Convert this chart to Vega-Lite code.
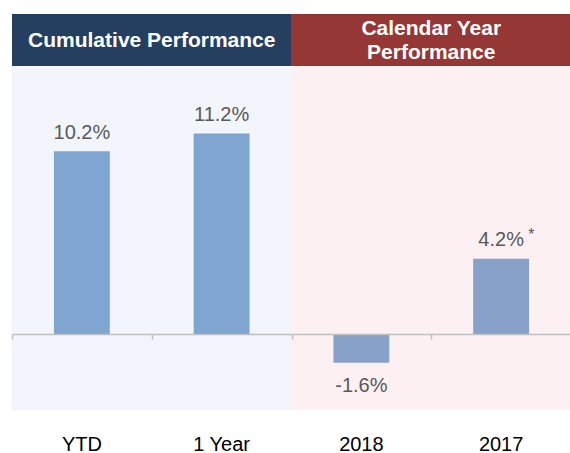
{
  "$schema": "https://vega.github.io/schema/vega-lite/v6.json",
  "padding": {"left": 11, "top": 14, "right": 0, "bottom": 0},
  "background": "white",
  "spacing": 0,
  "config": {
    "view": {"stroke": null},
    "font": "Liberation Sans",
    "locale": {"number": {"decimal": ".", "thousands": ",", "grouping": [3], "currency": ["$", ""], "minus": "-"}}
  },
  "datasets": {
    "perf": [
      {"period": "YTD", "section": "Cumulative Performance", "value": 0.102, "note": ""},
      {"period": "1 Year", "section": "Cumulative Performance", "value": 0.112, "note": ""},
      {"period": "2018", "section": "Calendar Year Performance", "value": -0.016, "note": ""},
      {"period": "2017", "section": "Calendar Year Performance", "value": 0.042, "note": "*"}
    ],
    "headers": [
      {"period": "YTD", "title": "Cumulative Performance", "lines": 1},
      {"period": "2018", "title": ["Calendar Year", "Performance"], "lines": 2}
    ]
  },
  "resolve": {"scale": {"color": "independent", "stroke": "independent", "x": "independent"}},
  "vconcat": [
    {
      "width": 559,
      "height": 52,
      "layer": [
        {
          "data": {"name": "perf"},
          "mark": {"type": "rect", "strokeWidth": 1, "clip": true},
          "encoding": {
            "x": {"field": "period", "type": "nominal", "scale": {"domain": ["YTD", "1 Year", "2018", "2017"], "paddingInner": 0, "paddingOuter": 0}, "axis": null},
            "color": {"field": "section", "type": "nominal", "scale": {"domain": ["Cumulative Performance", "Calendar Year Performance"], "range": ["#243F60", "#953735"]}, "legend": null},
            "stroke": {"field": "section", "type": "nominal", "scale": {"domain": ["Cumulative Performance", "Calendar Year Performance"], "range": ["#243F60", "#953735"]}, "legend": null}
          }
        },
        {
          "data": {"name": "headers"},
          "transform": [{"filter": "datum.lines == 1"}],
          "mark": {"type": "text", "color": "white", "fontWeight": "bold", "fontSize": 21, "baseline": "alphabetic", "dy": 7, "clip": true},
          "encoding": {
            "x": {"field": "period", "type": "nominal", "bandPosition": 1, "scale": {"domain": ["YTD", "1 Year", "2018", "2017"], "paddingInner": 0, "paddingOuter": 0}, "axis": null},
            "text": {"field": "title"}
          }
        },
        {
          "data": {"name": "headers"},
          "transform": [{"filter": "datum.lines == 2"}],
          "mark": {"type": "text", "color": "white", "fontWeight": "bold", "fontSize": 21, "baseline": "alphabetic", "lineHeight": 24, "dy": -5, "clip": true},
          "encoding": {
            "x": {"field": "period", "type": "nominal", "bandPosition": 1, "scale": {"domain": ["YTD", "1 Year", "2018", "2017"], "paddingInner": 0, "paddingOuter": 0}, "axis": null},
            "text": {"field": "title"}
          }
        }
      ]
    },
    {
      "width": 559,
      "height": 342.5,
      "data": {"name": "perf"},
      "layer": [
        {
          "mark": {"type": "rect", "strokeWidth": 1},
          "encoding": {
            "x": {
              "field": "period", "type": "nominal",
              "scale": {"domain": ["YTD", "1 Year", "2018", "2017"], "paddingInner": 0, "paddingOuter": 0},
              "axis": {"orient": "bottom", "offset": -75.5, "title": null, "labels": false, "domain": true, "domainColor": "#BFBFBF", "domainWidth": 1.5, "ticks": true, "tickBand": "extent", "tickSize": 5, "tickColor": "#BFBFBF", "tickWidth": 1.5, "grid": false, "zindex": 1}
            },
            "fill": {"field": "section", "type": "nominal", "scale": {"domain": ["Cumulative Performance", "Calendar Year Performance"], "range": ["#F2F5FB", "#FCF0F2"]}, "legend": null},
            "stroke": {"field": "section", "type": "nominal", "scale": {"domain": ["Cumulative Performance", "Calendar Year Performance"], "range": ["#F2F5FB", "#FCF0F2"]}, "legend": null}
          }
        },
        {
          "mark": {"type": "bar", "width": {"band": 0.4}},
          "encoding": {
            "x": {
              "field": "period", "type": "nominal",
              "scale": {"domain": ["YTD", "1 Year", "2018", "2017"], "paddingInner": 0, "paddingOuter": 0},
              "axis": {"orient": "bottom", "title": null, "domain": false, "ticks": false, "tickSize": 0, "labelPadding": 41, "labelBaseline": "alphabetic", "labelFontSize": 20, "labelColor": "#000000", "labelAngle": 0, "grid": false}
            },
            "y": {"field": "value", "type": "quantitative", "scale": {"domain": [-0.04216, 0.1491], "nice": false, "zero": false}, "axis": null},
            "color": {"field": "section", "type": "nominal", "scale": {"domain": ["Cumulative Performance", "Calendar Year Performance"], "range": ["#7FA5D1", "#88A1C8"]}, "legend": null}
          }
        },
        {
          "transform": [{"filter": "datum.value >= 0"}],
          "mark": {"type": "text", "fontSize": 20, "color": "#595959", "baseline": "alphabetic", "dy": -12.5},
          "encoding": {
            "x": {"field": "period", "type": "nominal", "axis": null},
            "y": {"field": "value", "type": "quantitative", "axis": null},
            "text": {"field": "value", "type": "quantitative", "format": ".1%"}
          }
        },
        {
          "transform": [{"filter": "datum.value < 0"}],
          "mark": {"type": "text", "fontSize": 20, "color": "#595959", "baseline": "top", "dy": 13},
          "encoding": {
            "x": {"field": "period", "type": "nominal", "axis": null},
            "y": {"field": "value", "type": "quantitative", "axis": null},
            "text": {"field": "value", "type": "quantitative", "format": ".1%"}
          }
        },
        {
          "transform": [{"filter": "datum.note != ''"}],
          "mark": {"type": "text", "fontSize": 16, "color": "#595959", "baseline": "alphabetic", "align": "left", "dx": 27, "dy": -19},
          "encoding": {
            "x": {"field": "period", "type": "nominal", "axis": null},
            "y": {"field": "value", "type": "quantitative", "axis": null},
            "text": {"field": "note"}
          }
        }
      ],
      "resolve": {"axis": {"x": "independent"}}
    }
  ]
}
